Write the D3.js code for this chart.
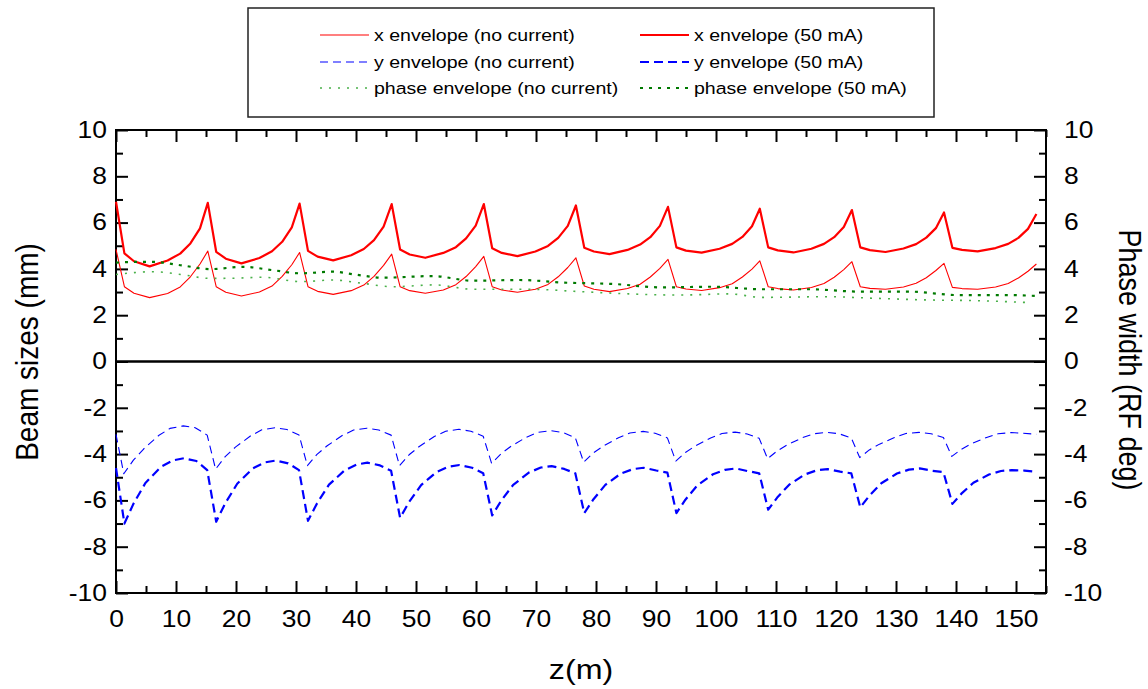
<!DOCTYPE html>
<html>
<head>
<meta charset="utf-8">
<script src="https://cdn.jsdelivr.net/npm/d3@7"></script>
<style>
  body { margin: 0; background: #fff; }
  svg { display: block; }
  text { font-family: "Liberation Sans", Arial, sans-serif; fill: #000; }
</style>
</head>
<body>
<svg id="chart" width="1148" height="689"></svg>
<script>
// Tick values
var zTicks = [0, 10, 20, 30, 40, 50, 60, 70, 80, 90, 100, 110, 120, 130, 140, 150];
var zMinor = [5, 15, 25, 35, 45, 55, 65, 75, 85, 95, 105, 115, 125, 135, 145, 155];
var yTicks = [-10, -8, -6, -4, -2, 0, 2, 4, 6, 8, 10];
var yMinor = [-9, -7, -5, -3, -1, 1, 3, 5, 7, 9];

// Envelopes: [z (m), value]
var xEnvNoCurrent = [
  [0,4.84],[1.4,3.23],[3.0,2.95],[5.6,2.76],[8.6,2.94],[10.7,3.22],[12.4,3.66],[14.0,4.21],
  [15.3,4.77],[16.7,3.23],[18.3,2.99],[20.9,2.83],[23.9,3.0],[26.0,3.26],[27.7,3.68],[29.3,4.18],
  [30.6,4.71],[32.0,3.23],[33.6,3.03],[36.2,2.9],[39.2,3.06],[41.3,3.3],[43.0,3.68],[44.6,4.15],
  [45.95,4.64],[47.35,3.23],[48.95,3.06],[51.55,2.95],[54.55,3.09],[56.65,3.32],[58.35,3.67],[59.95,4.1],
  [61.3,4.54],[62.7,3.23],[64.3,3.09],[66.9,2.99],[69.9,3.12],[72.0,3.33],[73.7,3.66],[75.3,4.06],
  [76.65,4.48],[78.05,3.26],[79.65,3.12],[82.25,3.02],[85.25,3.15],[87.35,3.34],[89.05,3.65],[90.65,4.02],
  [92.0,4.41],[93.4,3.23],[95.0,3.13],[97.6,3.07],[100.6,3.19],[102.7,3.36],[104.4,3.65],[106.0,3.99],
  [107.3,4.35],[108.7,3.23],[110.3,3.15],[112.9,3.09],[115.9,3.2],[118.0,3.37],[119.7,3.64],[121.3,3.97],
  [122.65,4.31],[124.05,3.23],[125.65,3.16],[128.25,3.12],[131.25,3.22],[133.35,3.38],[135.05,3.62],[136.65,3.93],
  [138.0,4.24],[139.4,3.2],[141.0,3.15],[143.6,3.12],[146.6,3.22],[148.7,3.37],[150.4,3.61],[152.0,3.9],
  [153.4,4.21]
];
var xEnv50mA = [
  [0,6.9],[1.4,4.67],[3.0,4.33],[5.6,4.11],[8.6,4.36],[10.7,4.66],[12.4,5.10],[14.0,5.75],
  [15.3,6.85],[16.7,4.74],[18.3,4.44],[20.9,4.24],[23.9,4.47],[26.0,4.76],[27.7,5.17],[29.3,5.79],
  [30.6,6.82],[32.0,4.78],[33.6,4.53],[36.2,4.37],[39.2,4.59],[41.3,4.86],[43.0,5.24],[44.6,5.83],
  [45.95,6.8],[47.35,4.84],[48.95,4.62],[51.55,4.48],[54.55,4.69],[56.65,4.94],[58.35,5.32],[59.95,5.87],
  [61.3,6.8],[62.7,4.89],[64.3,4.69],[66.9,4.55],[69.9,4.75],[72.0,4.99],[73.7,5.34],[75.3,5.86],
  [76.65,6.74],[78.05,4.91],[79.65,4.75],[82.25,4.64],[85.25,4.82],[87.35,5.05],[89.05,5.37],[90.65,5.86],
  [92.0,6.68],[93.4,4.93],[95.0,4.79],[97.6,4.70],[100.6,4.87],[102.7,5.08],[104.4,5.38],[106.0,5.84],
  [107.3,6.6],[108.7,4.93],[110.3,4.8],[112.9,4.71],[115.9,4.87],[118.0,5.08],[119.7,5.37],[121.3,5.81],
  [122.65,6.54],[124.05,4.93],[125.65,4.81],[128.25,4.73],[131.25,4.88],[133.35,5.07],[135.05,5.35],[136.65,5.76],
  [138.0,6.44],[139.4,4.91],[141.0,4.82],[143.6,4.76],[146.6,4.9],[148.7,5.08],[150.4,5.34],[152.0,5.73],
  [153.4,6.37]
];
var yEnvNoCurrent = [
  [0,-3.15],[1.3,-4.85],[2.9,-4.26],[4.6,-3.78],[7.1,-3.2],[9.0,-2.89],[11.2,-2.78],[13.2,-2.86],[15.2,-3.18],
  [16.6,-4.65],[18.2,-4.11],[19.9,-3.7],[22.4,-3.22],[24.3,-2.95],[26.5,-2.86],[28.5,-2.94],[30.5,-3.17],
  [31.9,-4.5],[33.5,-4.01],[35.2,-3.64],[37.7,-3.2],[39.6,-2.96],[41.8,-2.88],[43.8,-2.96],[45.85,-3.18],
  [47.25,-4.5],[48.85,-4.03],[50.55,-3.67],[53.05,-3.24],[54.95,-3.01],[57.15,-2.93],[59.15,-3.01],[61.2,-3.23],
  [62.6,-4.4],[64.2,-3.98],[65.9,-3.65],[68.4,-3.27],[70.3,-3.06],[72.5,-2.99],[74.5,-3.07],[76.55,-3.29],
  [77.95,-4.35],[79.55,-3.95],[81.25,-3.65],[83.75,-3.29],[85.65,-3.09],[87.85,-3.02],[89.85,-3.1],[91.9,-3.3],
  [93.3,-4.3],[94.9,-3.93],[96.6,-3.64],[99.1,-3.3],[101.0,-3.11],[103.2,-3.05],[105.2,-3.13],[107.2,-3.32],
  [108.6,-4.2],[110.2,-3.86],[111.9,-3.6],[114.4,-3.29],[116.3,-3.12],[118.5,-3.06],[120.5,-3.12],[122.55,-3.3],
  [123.95,-4.15],[125.55,-3.82],[127.25,-3.57],[129.75,-3.28],[131.65,-3.11],[133.85,-3.06],[135.85,-3.12],[137.9,-3.28],
  [139.3,-4.1],[140.9,-3.79],[142.6,-3.55],[145.1,-3.28],[147.0,-3.12],[149.2,-3.07],[151.2,-3.1],[153.4,-3.14]
];
var yEnv50mA = [
  [0,-4.6],[1.4,-7.0],[2.9,-6.15],[4.9,-5.25],[7.5,-4.55],[9.5,-4.27],[11.3,-4.18],[13.4,-4.3],[15.2,-4.69],
  [16.7,-6.92],[18.2,-6.13],[20.2,-5.28],[22.8,-4.62],[24.8,-4.36],[26.6,-4.28],[28.7,-4.4],[30.5,-4.69],
  [32.0,-6.88],[33.5,-6.13],[35.5,-5.32],[38.1,-4.7],[40.1,-4.45],[41.9,-4.37],[44.0,-4.49],[45.85,-4.72],
  [47.35,-6.75],[48.85,-6.07],[50.85,-5.34],[53.45,-4.77],[55.45,-4.54],[57.25,-4.47],[59.35,-4.59],[61.2,-4.83],
  [62.7,-6.65],[64.2,-6.01],[66.2,-5.33],[68.8,-4.8],[70.8,-4.58],[72.6,-4.52],[74.7,-4.64],[76.55,-4.83],
  [78.05,-6.55],[79.55,-5.96],[81.55,-5.33],[84.15,-4.84],[86.15,-4.65],[87.95,-4.59],[90.05,-4.71],[91.9,-4.8],
  [93.4,-6.55],[94.9,-5.97],[96.9,-5.35],[99.5,-4.87],[101.5,-4.68],[103.3,-4.62],[105.4,-4.74],[107.2,-4.83],
  [108.7,-6.4],[110.2,-5.88],[112.2,-5.32],[114.8,-4.88],[116.8,-4.7],[118.6,-4.65],[120.7,-4.76],[122.55,-4.83],
  [124.05,-6.3],[125.55,-5.8],[127.55,-5.26],[130.15,-4.84],[132.15,-4.67],[133.95,-4.62],[136.05,-4.72],[137.9,-4.78],
  [139.4,-6.15],[140.9,-5.71],[142.9,-5.24],[145.5,-4.88],[147.5,-4.73],[149.3,-4.69],[151.4,-4.71],[153.4,-4.76]
];
var phaseNoCurrent = [
  [0,3.76],[6.3,3.88],[11,3.75],[15.7,3.59],[20,3.6],[24.5,3.64],[30.7,3.45],[36.2,3.52],[41,3.38],
  [46.2,3.23],[53,3.31],[59.5,3.12],[69,3.12],[77.3,3.02],[85.6,2.92],[93.9,2.87],[102.2,2.92],
  [107.7,2.77],[118.3,2.8],[126.6,2.73],[134.9,2.66],[143.2,2.63],[152.6,2.54]
];
var phase50mA = [
  [0,4.27],[3,4.3],[6.3,4.3],[11,4.15],[15.7,3.99],[21.2,4.09],[26,3.95],[30.7,3.81],[36.2,3.88],
  [40,3.75],[44.5,3.62],[52.8,3.69],[59.5,3.49],[67.3,3.52],[74.5,3.41],[82.8,3.35],[91.1,3.2],
  [99.4,3.23],[107.7,3.12],[115.5,3.12],[123.8,3.02],[132.1,3.02],[140.4,2.87],[148.7,2.87],[153.4,2.83]
];

var series = [
  {name: "x envelope (no current)",     data: xEnvNoCurrent,  color: "#ff0000", width: 1.1, dash: null,  curve: d3.curveLinear, col: 0, row: 0},
  {name: "x envelope (50 mA)",          data: xEnv50mA,       color: "#ff0000", width: 2.2, dash: null,  curve: d3.curveLinear, col: 1, row: 0},
  {name: "y envelope (no current)",     data: yEnvNoCurrent,  color: "#0000ff", width: 1.1, dash: "8,5", curve: d3.curveLinear, col: 0, row: 1},
  {name: "y envelope (50 mA)",          data: yEnv50mA,       color: "#0000ff", width: 2.2, dash: "9,5", curve: d3.curveLinear, col: 1, row: 1},
  {name: "phase envelope (no current)", data: phaseNoCurrent, color: "#49b049", width: 1.6, dash: "2,7", curve: d3.curveMonotoneX, col: 0, row: 2},
  {name: "phase envelope (50 mA)",      data: phase50mA,      color: "#007a00", width: 2.2, dash: "3,6", curve: d3.curveMonotoneX, col: 1, row: 2}
];

(function(){
  var svg = d3.select("#chart");
  var pLeft = 116, pRight = 1046, pTop = 130, pBottom = 593;
  // the original lettering is a little wider than it is tall
  var sx = 1.15;

  var x = d3.scaleLinear().domain([0, 155]).range([pLeft, pRight]);
  var y = d3.scaleLinear().domain([-10, 10]).range([pBottom, pTop]);

  // plain hyphen for negatives, like the original
  var label = function(d){ return String(d); };

  // Ticks point inwards on all four sides
  function axisGroup(axis, tx, ty) {
    var g = svg.append("g").attr("transform", "translate(" + tx + "," + ty + ")").call(axis);
    g.select(".domain").remove();
    g.selectAll("line").attr("stroke", "#000").attr("stroke-width", 2);
    g.selectAll("text")
      .style("font-size", "23px")
      .attr("fill", "#000")
      .attr("x", function(){ return (+this.getAttribute("x") || 0) / sx; })
      .attr("transform", "scale(" + sx + ",1)");
    return g;
  }

  axisGroup(d3.axisBottom(x).tickValues(zTicks).tickSize(-12).tickPadding(18).tickFormat(label), 0, pBottom);
  axisGroup(d3.axisBottom(x).tickValues(zMinor).tickSize(-7).tickFormat(""), 0, pBottom);
  axisGroup(d3.axisTop(x).tickValues(zTicks).tickSize(-12).tickFormat(""), 0, pTop);
  axisGroup(d3.axisTop(x).tickValues(zMinor).tickSize(-7).tickFormat(""), 0, pTop);
  axisGroup(d3.axisLeft(y).tickValues(yTicks).tickSize(-12).tickPadding(9).tickFormat(label), pLeft, 0);
  axisGroup(d3.axisLeft(y).tickValues(yMinor).tickSize(-7).tickFormat(""), pLeft, 0);
  axisGroup(d3.axisRight(y).tickValues(yTicks).tickSize(-12).tickPadding(18).tickFormat(label), pRight, 0);
  axisGroup(d3.axisRight(y).tickValues(yMinor).tickSize(-7).tickFormat(""), pRight, 0);

  // Frame and zero line
  svg.append("rect")
    .attr("x", pLeft).attr("y", pTop)
    .attr("width", pRight - pLeft).attr("height", pBottom - pTop)
    .attr("fill", "none").attr("stroke", "#000").attr("stroke-width", 2);
  svg.append("line")
    .attr("x1", pLeft).attr("x2", pRight)
    .attr("y1", y(0)).attr("y2", y(0))
    .attr("stroke", "#000").attr("stroke-width", 2.5);

  // Curves
  var line = d3.line().x(function(d){ return x(d[0]); }).y(function(d){ return y(d[1]); });
  series.forEach(function(s){
    svg.append("path")
      .datum(s.data)
      .attr("fill", "none")
      .attr("stroke", s.color)
      .attr("stroke-width", s.width)
      .attr("stroke-dasharray", s.dash)
      .attr("stroke-linejoin", "round")
      .attr("d", line.curve(s.curve));
  });

  // Axis titles
  svg.append("text")
    .attr("transform", "translate(38,352) rotate(-90) scale(1," + sx + ")")
    .attr("text-anchor", "middle")
    .style("font-size", "28px")
    .text("Beam sizes (mm)");
  svg.append("text")
    .attr("transform", "translate(1119,360) rotate(90) scale(1," + sx + ")")
    .attr("text-anchor", "middle")
    .style("font-size", "27px")
    .text("Phase width (RF deg)");
  svg.append("text")
    .attr("transform", "translate(" + ((pLeft + pRight) / 2) + ",679) scale(" + sx + ",1)")
    .attr("text-anchor", "middle")
    .style("font-size", "28px")
    .text("z(m)");

  // Legend
  var legend = svg.append("g");
  legend.append("rect")
    .attr("x", 248).attr("y", 8).attr("width", 686).attr("height", 109)
    .attr("fill", "#fff").attr("stroke", "#222").attr("stroke-width", 1.5);
  var colX = [320, 640];
  var rowY = [35, 62, 88];
  series.forEach(function(s){
    var lx = colX[s.col], ly = rowY[s.row];
    legend.append("line")
      .attr("x1", lx).attr("x2", lx + 49)
      .attr("y1", ly).attr("y2", ly)
      .attr("stroke", s.color)
      .attr("stroke-width", s.width)
      .attr("stroke-dasharray", s.dash);
    legend.append("text")
      .attr("transform", "translate(" + (lx + 54) + "," + ly + ") scale(" + sx + ",1)")
      .attr("dy", "0.35em")
      .style("font-size", "17px")
      .text(s.name);
  });
})();
</script>
</body>
</html>
